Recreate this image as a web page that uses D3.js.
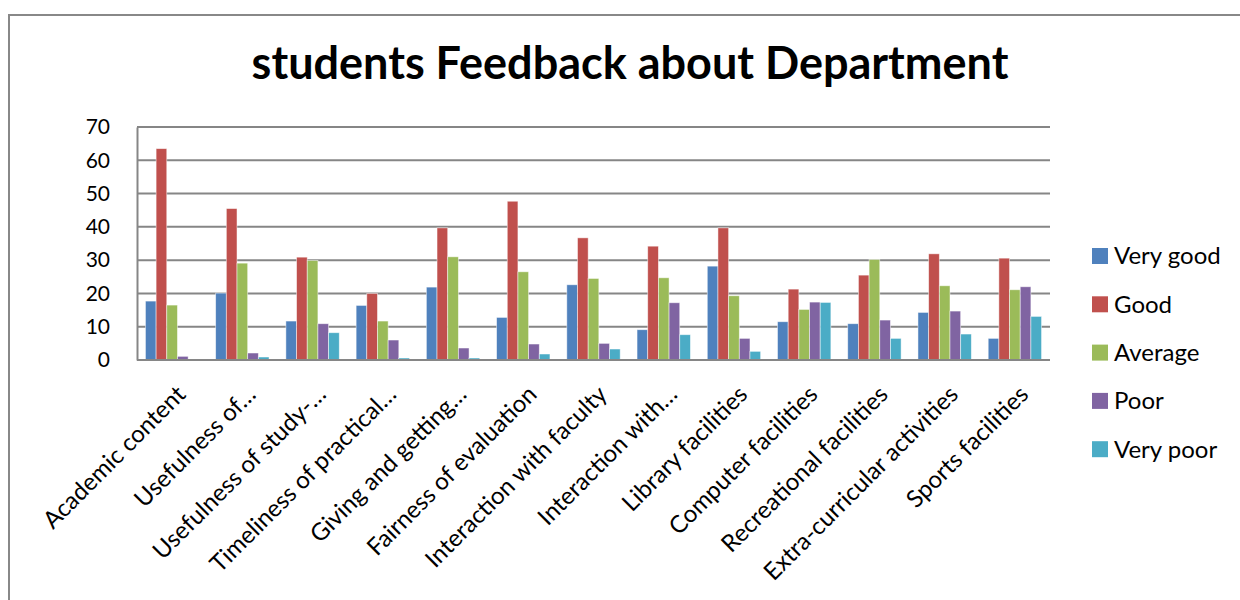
<!DOCTYPE html>
<html>
<head>
<meta charset="utf-8">
<script src="https://cdn.jsdelivr.net/npm/d3@7"></script>
<style>
  body { margin: 0; background: #fff; }
  text { font-family: Lato, "Open Sans", sans-serif; fill: #000; }
</style>
</head>
<body>
<svg id="chart" width="1240" height="600"></svg>
<script>
// categories and series
const categories = [
  "Academic content", "Usefulness of\u2026", "Usefulness of study-\u2026",
  "Timeliness of practical\u2026", "Giving and getting\u2026", "Fairness of evaluation",
  "Interaction with faculty", "Interaction with\u2026", "Library facilities",
  "Computer facilities", "Recreational facilities", "Extra-curricular activities",
  "Sports facilities"
];
const seriesNames = ["Very good", "Good", "Average", "Poor", "Very poor"];
const veryGood = [17.7, 20.1, 11.7, 16.4, 21.9, 12.8, 22.6, 9.1, 28.2, 11.5, 10.9, 14.3, 6.5];
const good     = [63.5, 45.5, 30.9, 20.0, 39.7, 47.7, 36.7, 34.2, 39.7, 21.3, 25.5, 31.9, 30.6];
const average  = [16.5, 29.1, 29.9, 11.7, 31.0, 26.5, 24.5, 24.7, 19.3, 15.2, 30.2, 22.3, 21.1];
const poor     = [1.1, 2.1, 10.9, 6.0, 3.6, 4.8, 5.0, 17.2, 6.5, 17.4, 12.0, 14.7, 22.0];
const veryPoor = [0, 0.9, 8.2, 0.6, 0.6, 1.8, 3.3, 7.6, 2.6, 17.3, 6.5, 7.8, 13.1];
const yTicks = [0, 10, 20, 30, 40, 50, 60, 70];
const colors = ["#4F81BD", "#C0504D", "#9BBB59", "#8064A2", "#4BACC6"];

const seriesValues = [veryGood, good, average, poor, veryPoor];

const svg = d3.select("#chart");

// outer chart border
svg.append("rect")
  .attr("x", 9).attr("y", 15)
  .attr("width", 1240).attr("height", 600)
  .attr("fill", "none").attr("stroke", "#888").attr("stroke-width", 2);

svg.append("text")
  .attr("x", 630).attr("y", 79)
  .attr("text-anchor", "middle")
  .style("font-size", "45px").style("font-weight", "bold")
  .text("students Feedback about Department");

const x0 = d3.scaleBand().domain(categories).range([137, 1050]).paddingInner(0.24).paddingOuter(0.12);
const x1 = d3.scaleBand().domain(seriesNames).range([0, x0.bandwidth()]);
const y = d3.scaleLinear().domain([0, 70]).range([360, 127]);

// gridlines
svg.append("g").selectAll("line")
  .data(yTicks)
  .enter().append("line")
  .attr("x1", 137).attr("x2", 1050)
  .attr("y1", d => y(d)).attr("y2", d => y(d))
  .attr("stroke", "#868686").attr("stroke-width", 2);

// y axis
const yAxis = svg.append("g")
  .attr("transform", "translate(137,0)")
  .call(d3.axisLeft(y).tickValues(yTicks).tickSize(0).tickPadding(27));
yAxis.select(".domain").attr("stroke", "#868686").attr("stroke-width", 2);
yAxis.selectAll("text").style("font-size", "21px").attr("font-family", null);

// bars
const groups = svg.append("g").selectAll("g")
  .data(categories)
  .enter().append("g")
  .attr("transform", d => `translate(${x0(d)},0)`);

groups.selectAll("rect")
  .data((d, i) => seriesNames.map((s, j) => ({ s: s, v: seriesValues[j][i], c: colors[j] })))
  .enter().append("rect")
  .attr("x", d => x1(d.s))
  .attr("y", d => y(d.v))
  .attr("width", x1.bandwidth())
  .attr("height", d => y(0) - y(d.v))
  .attr("fill", d => d.c)
  .attr("stroke", "rgba(255,255,255,0.6)")
  .attr("stroke-width", 0.8);

// bottom axis line
svg.append("line")
  .attr("x1", 137).attr("x2", 1050)
  .attr("y1", y(0)).attr("y2", y(0))
  .attr("stroke", "#868686").attr("stroke-width", 2);

// category labels, rotated
const xStep = (1050 - 137) / categories.length;
svg.append("g").selectAll("text")
  .data(categories)
  .enter().append("text")
  .attr("text-anchor", "end")
  .attr("transform", (d, i) => `translate(${137 + xStep * (i + 0.5) + 3},${384}) rotate(-45)`)
  .attr("dy", "0.7em")
  .style("font-size", "24px")
  .text(d => d);

// legend
const legend = svg.append("g").selectAll("g")
  .data(seriesNames)
  .enter().append("g")
  .attr("transform", (d, i) => `translate(1092,${256 + i * 48.3})`);
legend.append("rect")
  .attr("x", 0).attr("y", -8)
  .attr("width", 16).attr("height", 16)
  .attr("fill", (d, i) => colors[i]);
legend.append("text")
  .attr("x", 22).attr("dy", "0.35em")
  .style("font-size", "24px")
  .text(d => d);
</script>
</body>
</html>
